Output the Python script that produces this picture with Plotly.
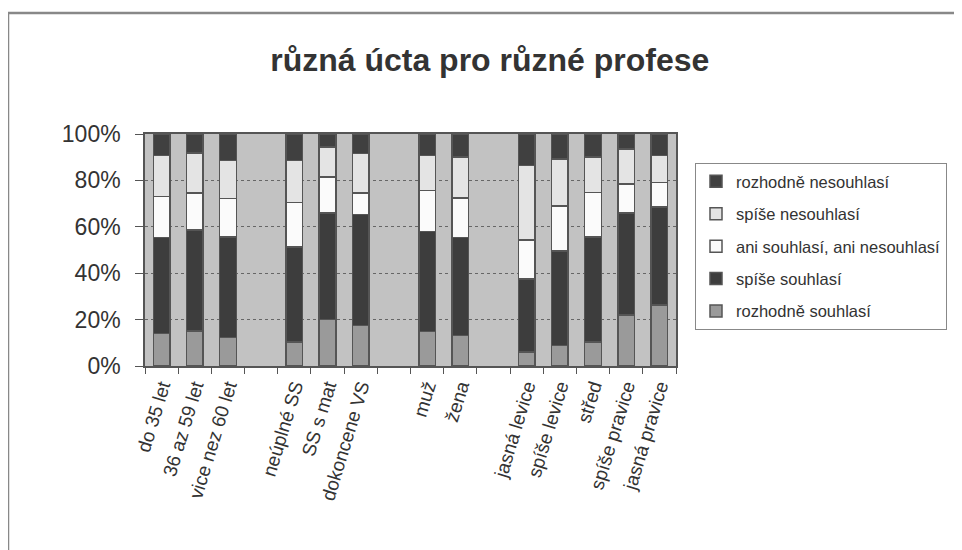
import plotly.graph_objects as go

categories = ["do 35 let", "36 az 59 let", "vice nez 60 let", " ",
              "neúplné SS", "SS s mat", "dokoncene VS", "  ",
              "muž", "žena", "   ",
              "jasná levice", "spíše levice", "střed", "spíše pravice", "jasná pravice"]

rozhodne_souhlasi   = [14.0, 15.0, 12.3, None, 10.3, 20.1, 17.5, None, 14.9, 13.2, None, 6.0, 8.9, 10.3, 21.9, 26.2]
spise_souhlasi      = [41.3, 43.6, 43.2, None, 40.9, 45.8, 47.7, None, 43.0, 42.1, None, 31.4, 40.7, 45.2, 44.0, 42.3]
ani_ani             = [17.8, 15.9, 16.6, None, 19.3, 15.6, 9.3, None, 17.8, 17.1, None, 16.9, 19.4, 19.3, 12.5, 10.6]
spise_nesouhlasi    = [17.7, 17.4, 16.4, None, 18.0, 12.8, 17.1, None, 15.1, 17.7, None, 32.2, 20.3, 15.3, 15.2, 11.7]
rozhodne_nesouhlasi = [9.2, 8.1, 11.5, None, 11.5, 5.7, 8.4, None, 9.2, 9.9, None, 13.5, 10.7, 9.9, 6.4, 9.2]

y_tickvals = [0, 20, 40, 60, 80, 100]
y_ticktext = ["0%", "20%", "40%", "60%", "80%", "100%"]

series = [
    ("rozhodně souhlasí", rozhodne_souhlasi, "#9a9a9a"),
    ("spíše souhlasí", spise_souhlasi, "#3d3d3d"),
    ("ani souhlasí, ani nesouhlasí", ani_ani, "#fbfbfb"),
    ("spíše nesouhlasí", spise_nesouhlasi, "#e4e4e4"),
    ("rozhodně nesouhlasí", rozhodne_nesouhlasi, "#404040"),
]

fig = go.Figure()
n = len(series)
for i, (name, vals, col) in enumerate(series):
    fig.add_trace(go.Bar(
        x=categories, y=vals, name=name, legendgroup=f"g{i}", legendrank=n - i,
        marker=dict(color=col, line=dict(color="#555555", width=1.5)),
    ))

# page body has an 8px margin -> shift everything by 8px
fig.update_layout(
    width=954, height=542,
    barmode="stack", barnorm="percent", bargap=0.5,
    paper_bgcolor="white", plot_bgcolor="#c2c2c2",
    margin=dict(l=137, r=286, t=126, b=184, autoexpand=False),
    font=dict(family="Liberation Sans, Arial, sans-serif", color="#333333"),
    title=dict(text="<b>různá úcta pro různé profese</b>", x=0.505, xanchor="center",
               y=0.905, yanchor="middle", font=dict(size=32, color="#333333")),
    showlegend=True,
    legend=dict(xref="container", yref="container", x=687/954, xanchor="left",
                y=1 - 155/542, yanchor="top",
                traceorder="grouped", tracegroupgap=8,
                bgcolor="white", bordercolor="#888888", borderwidth=1,
                font=dict(size=16.5, color="#333333")),
    shapes=[dict(type="rect", xref="paper", yref="paper",
                 x0=-(137)/531, x1=2.0,
                 y0=-1.5, y1=(366-13)/232,
                 line=dict(color="#888888", width=2.5), layer="below")],
)

fig.update_xaxes(
    type="category", tickangle=-73, tickson="boundaries", ticks="outside",
    ticklen=6, tickcolor="#555555", showline=True, linecolor="#555555", linewidth=1.5,
    mirror=True, tickfont=dict(size=19, color="#333333"), showgrid=False,
)
fig.update_yaxes(
    range=[0, 100], tickvals=y_tickvals, ticktext=y_ticktext,
    ticks="outside", ticklen=8, tickcolor="#555555", ticklabelstandoff=10,
    showline=True, linecolor="#555555", linewidth=1.5, mirror=True,
    showgrid=True, gridcolor="#666666", griddash="dot", gridwidth=1,
    tickfont=dict(size=23, color="#333333"), zeroline=False,
)

fig.write_html("out.html", config={"displayModeBar": False})
